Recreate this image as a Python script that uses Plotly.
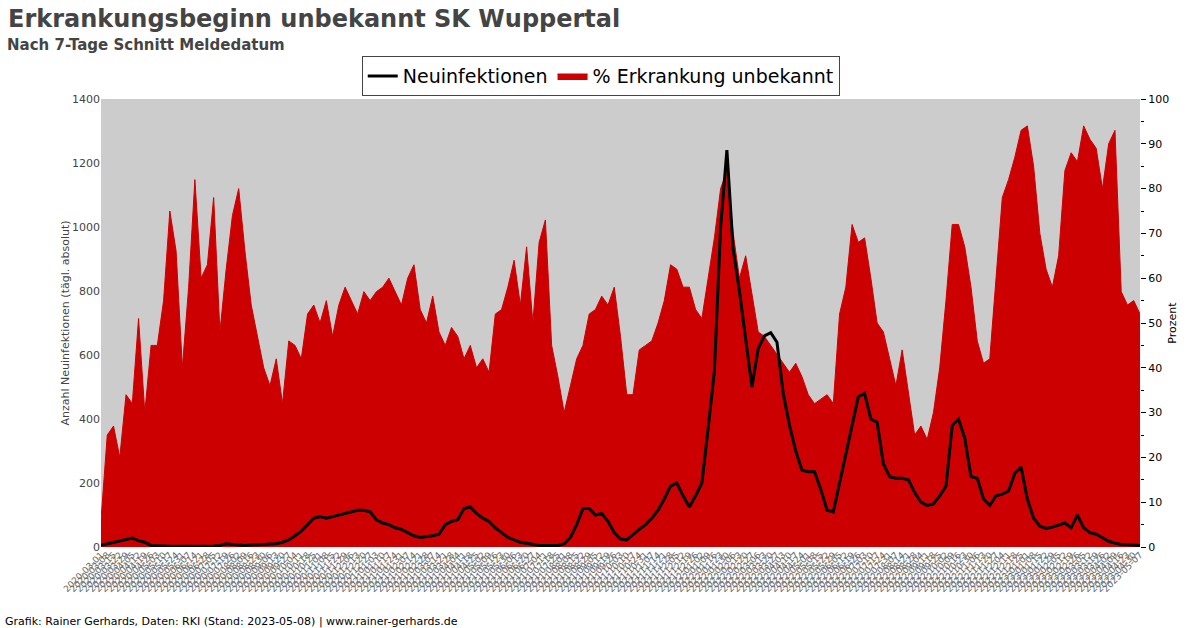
import plotly.graph_objects as go
import pandas as pd

start_date = "2020-03-01"
pct_unbekannt = [6,25,27,20,34,32,51,30,45,45,
55,75,66,40,58,82,60,63,78,48,
62,74,80,66,54,47,40,36,42,32,
46,45,42,52,54,50,55,47,54,58,
55,52,57,55,57,58,60,57,54,60,
63,53,50,56,48,45,49,47,42,45,
40,42,39,52,53,58,64,54,67,50,
68,73,45,38,30,36,42,45,52,53,
56,54,58,47,34,34,44,45,46,50,
55,63,62,58,58,53,51,60,69,80,
84,70,60,65,56,48,47,45,43,41,
39,41,38,34,32,33,34,32,52,58,
72,68,69,60,50,48,42,36,44,35,
25,27,24,30,40,55,72,72,67,58,
46,41,42,60,78,82,87,93,94,85,
70,62,58,65,84,88,86,94,91,89,
80,90,93,57,54,55,52]
neuinfektionen = [5,10,15,20,25,28,20,15,5,3,
3,2,2,2,2,2,2,3,3,5,
10,8,6,5,6,8,8,9,10,15,
22,35,50,70,90,95,90,95,100,105,
110,115,115,110,85,75,70,60,55,45,
35,30,32,35,40,70,80,85,120,125,
105,90,80,60,45,30,22,15,12,8,
5,5,5,5,10,30,70,120,120,100,
105,80,45,25,22,40,55,70,90,115,
150,190,200,160,125,160,200,370,550,1000,
1240,930,800,650,500,620,660,670,640,480,
380,300,240,235,235,180,115,110,200,290,
380,470,480,400,390,260,220,215,215,210,
170,140,130,135,160,190,380,400,340,220,
215,150,130,160,165,175,230,250,150,90,
65,58,62,68,75,60,100,60,45,40,
30,18,12,8,7,6,5]

dates = pd.date_range(start_date, periods=len(pct_unbekannt), freq="7D")
tickdates = pd.date_range(start_date, dates[-1], freq="7D")

fig = go.Figure()
fig.add_trace(go.Scatter(x=dates, y=neuinfektionen, yaxis="y2", mode="lines",
    line=dict(color="black", width=3), name="Neuinfektionen"))
fig.add_trace(go.Scatter(x=dates, y=pct_unbekannt, yaxis="y", mode="lines",
    fill="tozeroy", fillcolor="#cc0000", line=dict(color="#cc0000", width=1),
    name="% Erkrankung unbekannt"))

fig.update_layout(
    width=1200, height=628, paper_bgcolor="white", plot_bgcolor="#cccccc",
    margin=dict(l=101, r=60, t=99, b=81, autoexpand=False),
    font=dict(family="DejaVu Sans", color="#444444"),
    showlegend=True,
    legend=dict(orientation="h", x=0.481, xanchor="center", y=1.051, yanchor="middle",
                bordercolor="#444444", borderwidth=1, bgcolor="white",
                font=dict(size=19, color="black")),
    xaxis=dict(range=[dates[0], dates[-1]], showgrid=False, tickangle=-45, automargin=False,
               tickvals=tickdates, ticktext=[d.strftime("%Y-%m-%d") for d in tickdates],
               tickfont=dict(size=9, color="#666666"), ticks="", zeroline=False),
    yaxis=dict(side="right", range=[0, 100], dtick=10, showgrid=False, automargin=False,
               ticks="outside", ticklen=5, tickcolor="black",
               minor=dict(dtick=5, ticks="outside", ticklen=3, tickcolor="black"),
               tickfont=dict(size=11, color="black"),
               title=dict(text="Prozent", font=dict(size=11, color="black"), standoff=0)),
    yaxis2=dict(side="left", overlaying="y", range=[0, 1400], dtick=200, showgrid=False,
                automargin=False, tickfont=dict(size=11, color="#444444"), ticks="",
                title=dict(text="Anzahl Neuinfektionen (tägl. absolut)", font=dict(size=11), standoff=0)),
    annotations=[
        dict(text="<b>Erkrankungsbeginn unbekannt SK Wuppertal</b>", x=-0.091, y=1.215, xref="paper", yref="paper",
             xanchor="left", yanchor="top", showarrow=False, font=dict(size=24, color="#444444")),
        dict(text="<b>Nach 7-Tage Schnitt Meldedatum</b>", x=-0.092, y=1.145, xref="paper", yref="paper",
             xanchor="left", yanchor="top", showarrow=False, font=dict(size=15, color="#444444")),
        dict(text="Grafik: Rainer Gerhards, Daten: RKI (Stand: 2023-05-08) | www.rainer-gerhards.de",
             x=-0.094, y=-0.185, xref="paper", yref="paper", xanchor="left", yanchor="bottom",
             showarrow=False, font=dict(size=11, color="black")),
    ],
)
fig.write_html("out.html", config={"displayModeBar": False})

with open("out.html", encoding="utf-8") as f:
    html = f.read()
html = html.replace("<head>", "<head><style>body{margin:0;}</style>", 1)
with open("out.html", "w", encoding="utf-8") as f:
    f.write(html)
